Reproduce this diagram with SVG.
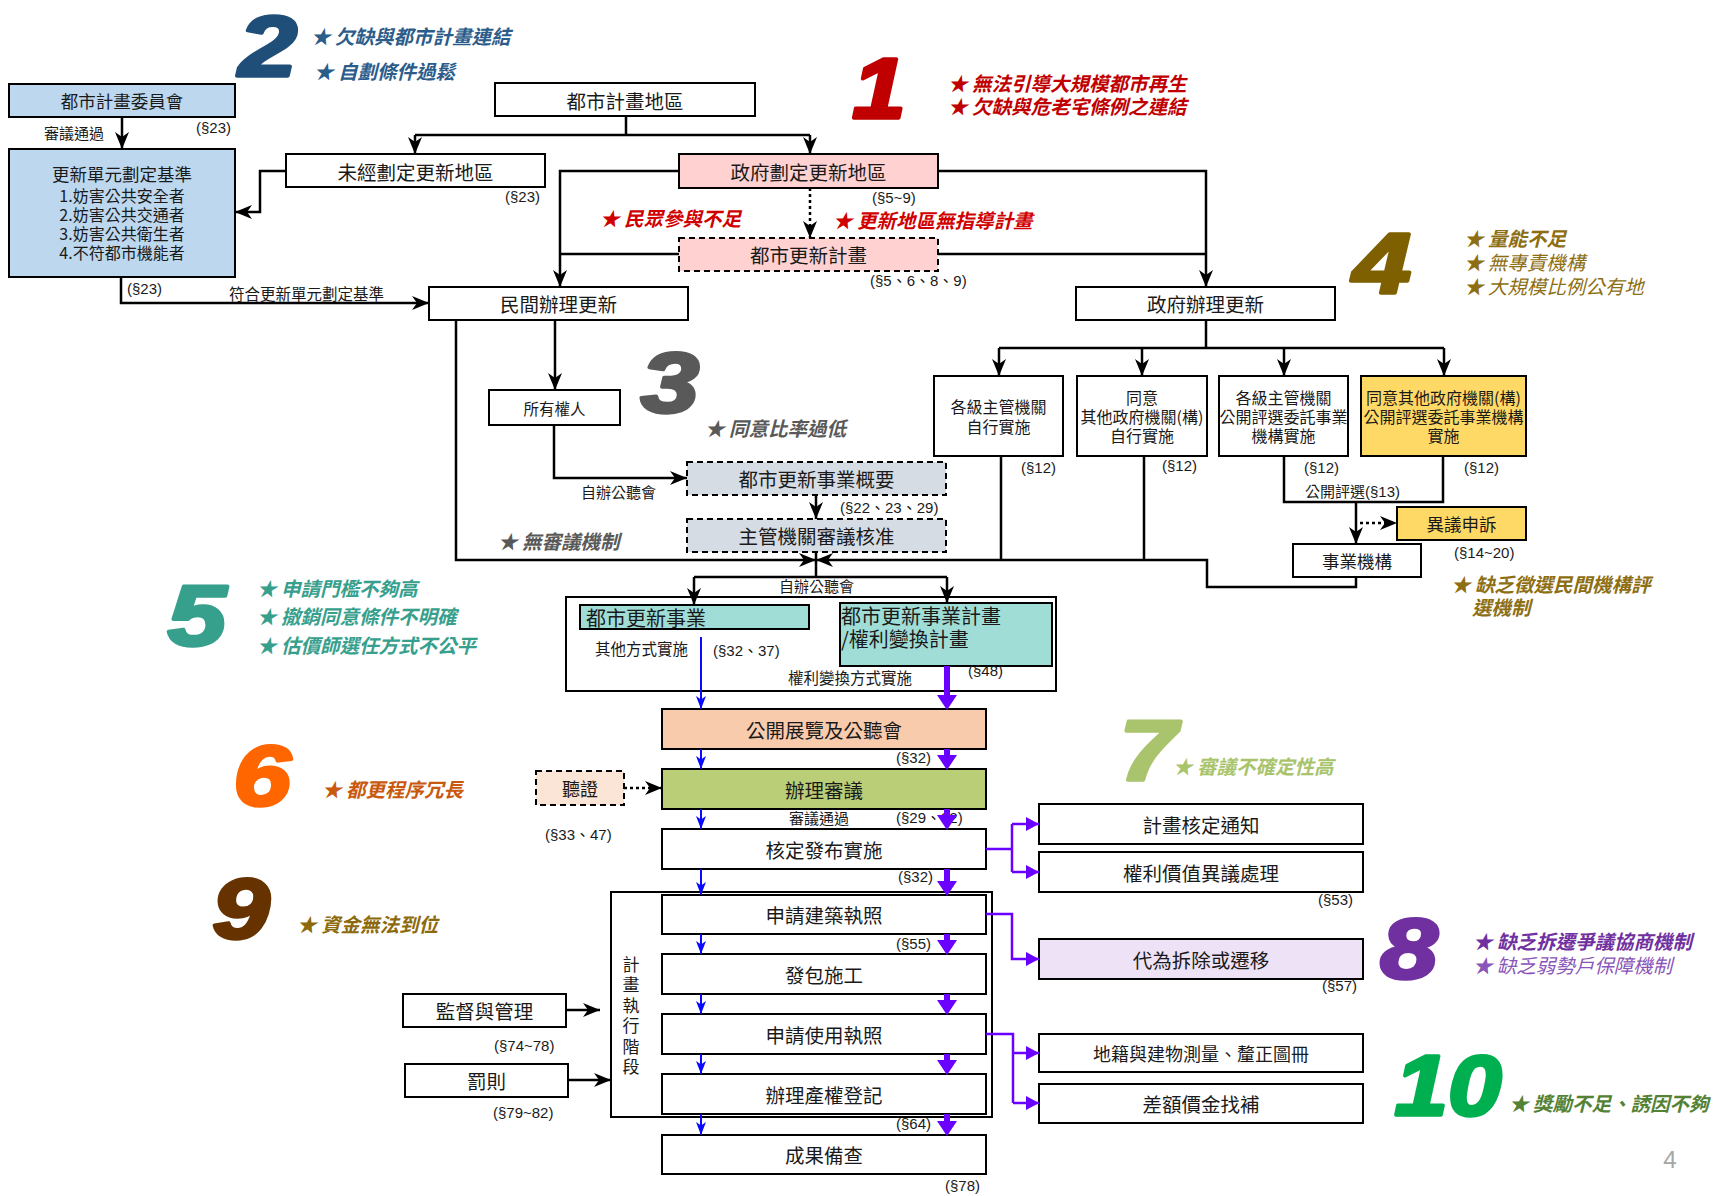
<svg xmlns="http://www.w3.org/2000/svg" width="1714" height="1196" viewBox="0 0 1714 1196">
<style>
.box{fill:#fff;stroke:#000;stroke-width:2}
.fb{fill:#BDD7EE}.fp{fill:#FFD1D1}.fg{fill:#D6DCE4}.fy{fill:#FFD966}.ft{fill:#A0DDD6}.fo{fill:#F8CBAD}.fgr{fill:#BACE78}.fl{fill:#FBE5D6}.fv{fill:#EEE3F6}.fn{fill:none}
.dash{stroke-dasharray:6,4}
.t{font-family:"Noto Sans CJK TC","Noto Sans CJK SC",sans-serif;fill:#1a1a1a;text-anchor:middle;dominant-baseline:central;font-size:19.5px}
.m{font-size:16px}
.sm{font-family:"Noto Sans CJK TC","Noto Sans CJK SC",sans-serif;font-size:15px;fill:#1a1a1a;dominant-baseline:central}
.ref{font-family:"Liberation Sans","Noto Sans CJK TC",sans-serif;font-size:15px;fill:#1a1a1a;dominant-baseline:central}
.note{font-family:"Noto Sans CJK TC","Noto Sans CJK SC",sans-serif;font-size:19.5px;font-style:italic;font-weight:700;dominant-baseline:central}
.lt{font-weight:400}
.big{font-family:"Liberation Sans",sans-serif;font-size:86px;font-style:italic;font-weight:700;text-anchor:middle;stroke-width:3.5;stroke-linejoin:round}
.ln{fill:none;stroke:#000;stroke-width:2.5}
.dot{stroke-dasharray:3,3}
.bl{fill:none;stroke:#0A0AFF;stroke-width:2}
.pu{fill:none;stroke:#6A00FF;stroke-width:6}
.pus{fill:none;stroke:#6A00FF;stroke-width:2.5}
</style>
<defs>
<marker id="ab" markerUnits="userSpaceOnUse" markerWidth="18" markerHeight="14" refX="17" refY="7" orient="auto"><path d="M0,0 L17,7 L0,14 L5,7 Z" fill="#000"/></marker>
<marker id="abl" markerUnits="userSpaceOnUse" markerWidth="14" markerHeight="10" refX="13" refY="5" orient="auto"><path d="M0,0 L13,5 L0,10 L3.5,5 Z" fill="#0A0AFF"/></marker>
<marker id="ap" markerUnits="userSpaceOnUse" markerWidth="16" markerHeight="20" refX="0" refY="10" orient="auto"><path d="M0,0 L15,10 L0,20 Z" fill="#6A00FF"/></marker>
<marker id="aps" markerUnits="userSpaceOnUse" markerWidth="14" markerHeight="14" refX="13" refY="7" orient="auto"><path d="M0,0 L13,7 L0,14 Z" fill="#6A00FF"/></marker>
</defs>
<rect x="0" y="0" width="1714" height="1196" fill="#fff"/>

<g id="annotations">
<text class="big" transform="translate(268,76) scale(1.22,1)" x="0" y="0" style="fill:#1F4E79;stroke:#1F4E79">2</text>
<text class="note" x="311" y="35" style="fill:#2B5C8A">★ 欠缺與都市計畫連結</text>
<text class="note" x="314" y="70" style="fill:#2B5C8A">★ 自劃條件過鬆</text>
<text class="big" transform="translate(879,118) scale(1.12,1)" x="0" y="0" style="fill:#C00000;stroke:#C00000">1</text>
<text class="note" x="948" y="82" style="fill:#C00000">★ 無法引導大規模都市再生</text>
<text class="note" x="948" y="105" style="fill:#C00000">★ 欠缺與危老宅條例之連結</text>
<text class="note" x="600" y="217" style="fill:#D00000">★ 民眾參與不足</text>
<text class="note" x="833" y="219" style="fill:#D00000">★ 更新地區無指導計畫</text>
<text class="big" transform="translate(1382,293) scale(1.22,1)" x="0" y="0" style="fill:#7F6000;stroke:#7F6000">4</text>
<text class="note" x="1464" y="237" style="fill:#8D6E12">★ 量能不足</text>
<text class="note lt" x="1464" y="261" style="fill:#8D6E12">★ 無專責機構</text>
<text class="note lt" x="1464" y="285" style="fill:#8D6E12">★ 大規模比例公有地</text>
<text class="big" transform="translate(670,412) scale(1.22,1)" x="0" y="0" style="fill:#595959;stroke:#595959">3</text>
<text class="note" x="705" y="427" style="fill:#595959">★ 同意比率過低</text>
<text class="note" x="498" y="540" style="fill:#595959">★ 無審議機制</text>
<text class="note" x="1451" y="583" style="fill:#8D6E12">★ 缺乏徵選民間機構評</text>
<text class="note" x="1472" y="606" style="fill:#8D6E12">選機制</text>
<text class="big" transform="translate(197,645) scale(1.22,1)" x="0" y="0" style="fill:#37A08D;stroke:#37A08D">5</text>
<text class="note" x="257" y="587" style="fill:#37A08D">★ 申請門檻不夠高</text>
<text class="note" x="257" y="615" style="fill:#37A08D">★ 撤銷同意條件不明確</text>
<text class="note" x="257" y="644" style="fill:#37A08D">★ 估價師選任方式不公平</text>
<text class="big" transform="translate(262,805) scale(1.2,1)" x="0" y="0" style="fill:#FF6600;stroke:#FF6600">6</text>
<text class="note" x="322" y="788" style="fill:#C8590F">★ 都更程序冗長</text>
<text class="big" transform="translate(1148,780) scale(1.2,1)" x="0" y="0" style="fill:#A9C46C;stroke:#A9C46C">7</text>
<text class="note" x="1173" y="765" style="fill:#A9C46C">★ 審議不確定性高</text>
<text class="big" transform="translate(241,938) scale(1.2,1)" x="0" y="0" style="fill:#663300;stroke:#663300">9</text>
<text class="note" x="297" y="923" style="fill:#8C6A0C">★ 資金無法到位</text>
<text class="big" transform="translate(1409,978) scale(1.2,1)" x="0" y="0" style="fill:#7030A0;stroke:#7030A0">8</text>
<text class="note" x="1473" y="940" style="fill:#7030A0">★ 缺乏拆遷爭議協商機制</text>
<text class="note lt" x="1473" y="964" style="fill:#8A55B8">★ 缺乏弱勢戶保障機制</text>
<text class="big" transform="translate(1448,1115) scale(1.12,1)" x="0" y="0" style="fill:#00B050;stroke:#00B050">10</text>
<text class="note" x="1509" y="1102" style="fill:#548235">★ 獎勵不足、誘因不夠</text>
<text x="1670" y="1168" style="font-family:'Liberation Sans',sans-serif;font-size:24px;fill:#A6A6A6;text-anchor:middle">4</text>
</g>

<g id="n-committee"><rect class="box fb" x="9" y="84" width="226" height="33"/><text class="t" x="122" y="100" style="font-size:17.5px">都市計畫委員會</text></g>
<g id="n-criteria"><rect class="box fb" x="9" y="149" width="226" height="128"/>
<text class="t" x="122" y="173" style="font-size:17.5px">更新單元劃定基準</text>
<text class="t m" x="122" y="195">1.妨害公共安全者</text>
<text class="t m" x="122" y="214">2.妨害公共交通者</text>
<text class="t m" x="122" y="233">3.妨害公共衛生者</text>
<text class="t m" x="122" y="252">4.不符都市機能者</text></g>
<g id="n-cityplan"><rect class="box" x="495" y="83" width="260" height="33"/><text class="t" x="625" y="100">都市計畫地區</text></g>
<g id="n-undesignated"><rect class="box" x="286" y="154" width="259" height="33"/><text class="t" x="415.5" y="171">未經劃定更新地區</text></g>
<g id="n-govdesignated"><rect class="box fp" x="679" y="154" width="259" height="34"/><text class="t" x="808.5" y="171">政府劃定更新地區</text></g>
<g id="n-renewalplan"><rect class="box fp dash" x="679" y="238" width="259" height="33"/><text class="t" x="808.5" y="254.5">都市更新計畫</text></g>
<g id="n-private"><rect class="box" x="429" y="287" width="259" height="33"/><text class="t" x="558.5" y="303.5">民間辦理更新</text></g>
<g id="n-gov"><rect class="box" x="1076" y="287" width="259" height="33"/><text class="t" x="1205.5" y="303.5">政府辦理更新</text></g>
<g id="n-owner"><rect class="box" x="489" y="390" width="131" height="35"/><text class="t" x="554.5" y="407.5" style="font-size:15.5px">所有權人</text></g>
<g id="n-outline"><rect class="box fg dash" x="687" y="462" width="259" height="33"/><text class="t" x="816.5" y="478.5">都市更新事業概要</text></g>
<g id="n-approve"><rect class="box fg dash" x="687" y="519" width="259" height="33"/><text class="t" x="816.5" y="535.5">主管機關審議核准</text></g>
<g id="n-a"><rect class="box" x="934" y="376" width="129" height="80"/><text class="t m" x="998.5" y="406">各級主管機關</text><text class="t m" x="998.5" y="426">自行實施</text></g>
<g id="n-b"><rect class="box" x="1077" y="376" width="130" height="80"/><text class="t m" x="1142" y="397">同意</text><text class="t m" x="1142" y="416">其他政府機關(構)</text><text class="t m" x="1142" y="435">自行實施</text></g>
<g id="n-c"><rect class="box" x="1219" y="376" width="129" height="80"/><text class="t m" x="1283.5" y="397">各級主管機關</text><text class="t m" x="1283.5" y="416">公開評選委託事業</text><text class="t m" x="1283.5" y="435">機構實施</text></g>
<g id="n-d"><rect class="box fy" x="1361" y="376" width="165" height="80"/><text class="t m" x="1443.5" y="397">同意其他政府機關(構)</text><text class="t m" x="1443.5" y="416">公開評選委託事業機構</text><text class="t m" x="1443.5" y="435">實施</text></g>
<g id="n-agency"><rect class="box" x="1293" y="544" width="128" height="33"/><text class="t" x="1357" y="560.5" style="font-size:17.5px">事業機構</text></g>
<g id="n-appeal"><rect class="box fy" x="1397" y="507" width="129" height="33"/><text class="t" x="1461.5" y="523.5" style="font-size:17.5px">異議申訴</text></g>
<g id="n-business-group"><rect class="box fn" x="566" y="597" width="490" height="94"/></g>
<g id="n-business"><rect class="box ft" x="580" y="605" width="229" height="24"/><text class="t" x="586" y="617" style="font-size:20px;text-anchor:start">都市更新事業</text></g>
<g id="n-businessplan"><rect class="box ft" x="840" y="603" width="212" height="63"/><text class="t" x="841" y="615" style="font-size:20px;text-anchor:start">都市更新事業計畫</text><text class="t" x="841" y="638" style="font-size:20px;text-anchor:start">/權利變換計畫</text></g>
<g id="n-exec-stage"><rect class="box fn" x="611" y="892" width="381" height="225"/>
<text class="t" x="631" y="963" style="font-size:17px">計</text>
<text class="t" x="631" y="983.5" style="font-size:17px">畫</text>
<text class="t" x="631" y="1004" style="font-size:17px">執</text>
<text class="t" x="631" y="1024.5" style="font-size:17px">行</text>
<text class="t" x="631" y="1045" style="font-size:17px">階</text>
<text class="t" x="631" y="1065.5" style="font-size:17px">段</text></g>
<g id="n-exhibit"><rect class="box fo" x="662" y="709" width="324" height="40"/><text class="t" x="824" y="729">公開展覽及公聽會</text></g>
<g id="n-review"><rect class="box fgr" x="662" y="769" width="324" height="40"/><text class="t" x="824" y="789">辦理審議</text></g>
<g id="n-hearing"><rect class="box fl dash" x="536" y="771" width="88" height="34"/><text class="t" x="580" y="788" style="font-size:18px">聽證</text></g>
<g id="n-publish"><rect class="box" x="662" y="829" width="324" height="40"/><text class="t" x="824" y="849">核定發布實施</text></g>
<g id="n-buildpermit"><rect class="box" x="662" y="895" width="324" height="39"/><text class="t" x="824" y="914.5">申請建築執照</text></g>
<g id="n-construct"><rect class="box" x="662" y="954" width="324" height="40"/><text class="t" x="824" y="974">發包施工</text></g>
<g id="n-usepermit"><rect class="box" x="662" y="1014" width="324" height="40"/><text class="t" x="824" y="1034">申請使用執照</text></g>
<g id="n-register"><rect class="box" x="662" y="1074" width="324" height="40"/><text class="t" x="824" y="1094">辦理產權登記</text></g>
<g id="n-result"><rect class="box" x="662" y="1135" width="324" height="39"/><text class="t" x="824" y="1154.5">成果備查</text></g>
<g id="n-supervise"><rect class="box" x="403" y="994" width="163" height="33"/><text class="t" x="484.5" y="1010.5">監督與管理</text></g>
<g id="n-penalty"><rect class="box" x="405" y="1064" width="163" height="33"/><text class="t" x="486.5" y="1080.5">罰則</text></g>
<g id="n-notify"><rect class="box" x="1039" y="804" width="324" height="40"/><text class="t" x="1201" y="824">計畫核定通知</text></g>
<g id="n-objection"><rect class="box" x="1039" y="852" width="324" height="40"/><text class="t" x="1201" y="872">權利價值異議處理</text></g>
<g id="n-demolish"><rect class="box fv" x="1039" y="939" width="324" height="40"/><text class="t" x="1201" y="959">代為拆除或遷移</text></g>
<g id="n-survey"><rect class="box" x="1039" y="1034" width="324" height="38"/><text class="t" x="1201" y="1053" style="font-size:18px">地籍與建物測量、釐正圖冊</text></g>
<g id="n-settle"><rect class="box" x="1039" y="1084" width="324" height="39"/><text class="t" x="1201" y="1103.5">差額價金找補</text></g>

<g id="labels">
<text class="sm" x="44" y="132">審議通過</text>
<text class="ref" x="196" y="127">(§23)</text>
<text class="ref" x="505" y="196">(§23)</text>
<text class="ref" x="127" y="288">(§23)</text>
<text class="sm" x="229" y="293" style="font-size:15.5px">符合更新單元劃定基準</text>
<text class="ref" x="872" y="197">(§5~9)</text>
<text class="ref" x="870" y="280">(§5、6、8、9)</text>
<text class="ref" x="1021" y="467">(§12)</text>
<text class="ref" x="1162" y="465">(§12)</text>
<text class="ref" x="1304" y="467">(§12)</text>
<text class="ref" x="1464" y="467">(§12)</text>
<text class="ref" x="1305" y="491">公開評選(§13)</text>
<text class="ref" x="1454" y="552">(§14~20)</text>
<text class="sm" x="581" y="491">自辦公聽會</text>
<text class="ref" x="840" y="507">(§22、23、29)</text>
<text class="sm" x="779" y="585">自辦公聽會</text>
<text class="sm" x="595" y="648" style="font-size:15.5px">其他方式實施</text>
<text class="ref" x="713" y="650">(§32、37)</text>
<text class="sm" x="788" y="677" style="font-size:15.5px">權利變換方式實施</text>
<text class="ref" x="968" y="670">(§48)</text>
<text class="ref" x="896" y="757">(§32)</text>
<text class="ref" x="545" y="834">(§33、47)</text>
<text class="sm" x="789" y="817">審議通過</text>
<text class="ref" x="896" y="817">(§29、32)</text>
<text class="ref" x="898" y="876">(§32)</text>
<text class="ref" x="1318" y="899">(§53)</text>
<text class="ref" x="896" y="943">(§55)</text>
<text class="ref" x="1322" y="985">(§57)</text>
<text class="ref" x="494" y="1045">(§74~78)</text>
<text class="ref" x="493" y="1112">(§79~82)</text>
<text class="ref" x="896" y="1123">(§64)</text>
<text class="ref" x="945" y="1185">(§78)</text>
</g>

<g id="connectors">
<path class="ln" d="M122,117 V149" marker-end="url(#ab)"/>
<path class="ln" d="M626,116 V135 M415,135 H810"/>
<path class="ln" d="M415,135 V154" marker-end="url(#ab)"/>
<path class="ln" d="M810,135 V154" marker-end="url(#ab)"/>
<path class="ln" d="M286,171 H260 V212 H235" marker-end="url(#ab)"/>
<path class="ln" d="M121,277 V303 H429" marker-end="url(#ab)"/>
<path class="ln dot" d="M810,188 V238" marker-end="url(#ab)"/>
<path class="ln" d="M679,254 H560"/>
<path class="ln" d="M679,171 H560 V287" marker-end="url(#ab)"/>
<path class="ln" d="M938,254 H1206"/>
<path class="ln" d="M938,171 H1206 V287" marker-end="url(#ab)"/>
<path class="ln" d="M555,320 V390" marker-end="url(#ab)"/>
<path class="ln" d="M456,320 V560 H816" marker-end="url(#ab)"/>
<path class="ln" d="M554,425 V478 H687" marker-end="url(#ab)"/>
<path class="ln" d="M816,495 V519" marker-end="url(#ab)"/>
<path class="ln" d="M1206,320 V348 M999,348 H1444"/>
<path class="ln" d="M999,348 V376" marker-end="url(#ab)"/>
<path class="ln" d="M1142,348 V376" marker-end="url(#ab)"/>
<path class="ln" d="M1284,348 V376" marker-end="url(#ab)"/>
<path class="ln" d="M1444,348 V376" marker-end="url(#ab)"/>
<path class="ln" d="M1001,456 V560 M1144,456 V560"/>
<path class="ln" d="M1356,577 V587 H1207 V560 H816" marker-end="url(#ab)"/>
<path class="ln" d="M1284,456 V502 H1443 V456"/>
<path class="ln" d="M1356,502 V544" marker-end="url(#ab)"/>
<path class="ln dot" d="M1360,523 H1397" marker-end="url(#ab)"/>
<path class="ln" d="M816,552 V577 M694,577 H947"/>
<path class="ln" d="M694,577 V605" marker-end="url(#ab)"/>
<path class="ln" d="M947,577 V603" marker-end="url(#ab)"/>
<path class="ln dot" d="M624,788 H662" marker-end="url(#ab)"/>
<path class="ln" d="M566,1010 H600" marker-end="url(#ab)"/>
<path class="ln" d="M568,1080 H611" marker-end="url(#ab)"/>
<path class="bl" d="M701,637 V709" marker-end="url(#abl)"/>
<path class="bl" d="M701,749 V769" marker-end="url(#abl)"/>
<path class="bl" d="M701,809 V829" marker-end="url(#abl)"/>
<path class="bl" d="M701,869 V895" marker-end="url(#abl)"/>
<path class="bl" d="M701,934 V954" marker-end="url(#abl)"/>
<path class="bl" d="M701,994 V1014" marker-end="url(#abl)"/>
<path class="bl" d="M701,1054 V1074" marker-end="url(#abl)"/>
<path class="bl" d="M701,1114 V1135" marker-end="url(#abl)"/>
<path class="pu" d="M947,666 V695" marker-end="url(#ap)"/>
<path class="pu" d="M947,749 V755" marker-end="url(#ap)"/>
<path class="pu" d="M947,809 V815" marker-end="url(#ap)"/>
<path class="pu" d="M947,869 V881" marker-end="url(#ap)"/>
<path class="pu" d="M947,934 V940" marker-end="url(#ap)"/>
<path class="pu" d="M947,994 V1000" marker-end="url(#ap)"/>
<path class="pu" d="M947,1054 V1060" marker-end="url(#ap)"/>
<path class="pu" d="M947,1114 V1121" marker-end="url(#ap)"/>
<path class="pus" d="M986,849 H1012 M1012,824 V872"/>
<path class="pus" d="M1012,824 H1039" marker-end="url(#aps)"/>
<path class="pus" d="M1012,872 H1039" marker-end="url(#aps)"/>
<path class="pus" d="M986,914 H1012 V959 H1039" marker-end="url(#aps)"/>
<path class="pus" d="M986,1034 H1013 V1103"/>
<path class="pus" d="M1013,1053 H1039" marker-end="url(#aps)"/>
<path class="pus" d="M1013,1103 H1039" marker-end="url(#aps)"/>
</g>
</svg>
